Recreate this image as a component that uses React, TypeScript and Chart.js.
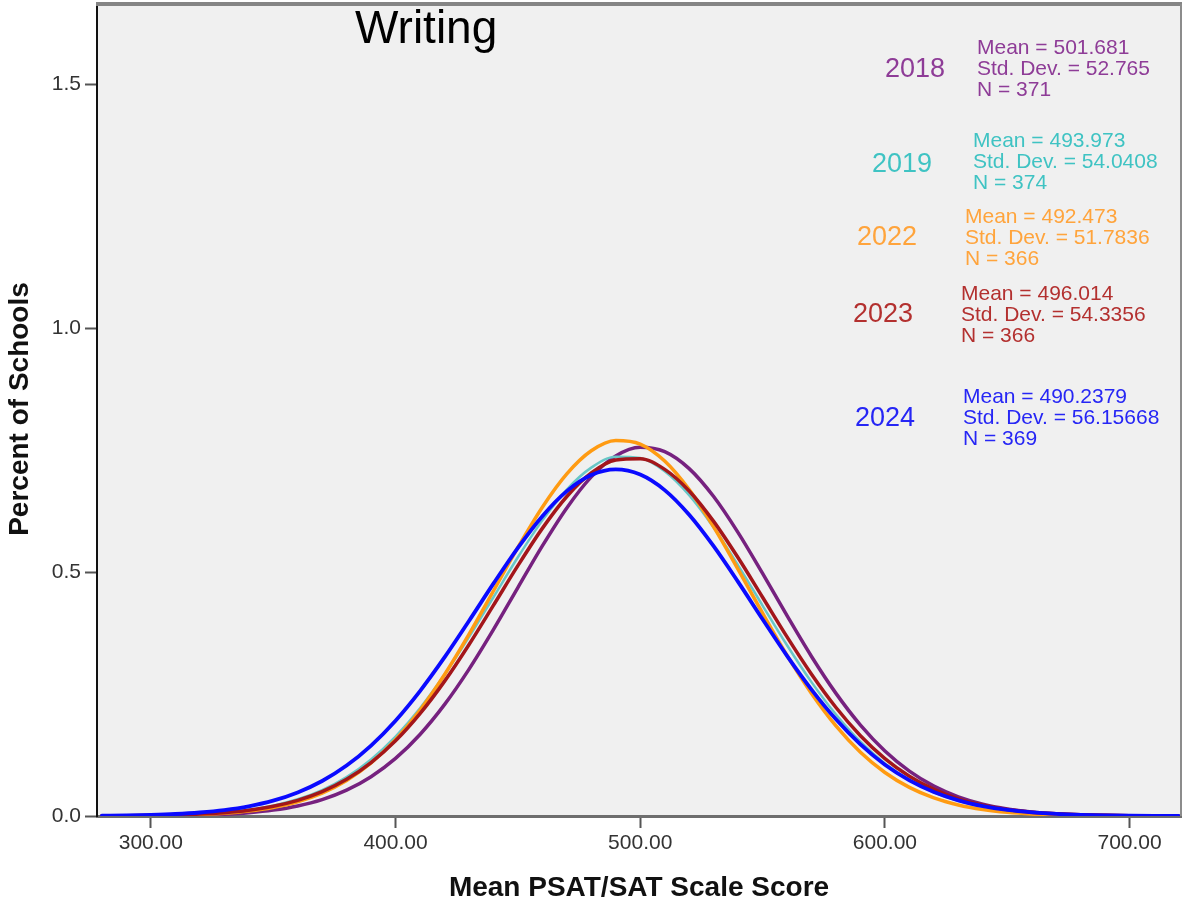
import React, { useEffect, useRef } from "react";
import { Chart, registerables } from "chart.js";

Chart.register(...registerables);

// ---- data ----
const scores = [
  280, 290, 300, 310, 320, 330, 340, 350, 360, 370, 380, 390, 400, 410, 420, 430, 440, 450, 460, 470, 480, 490,
  500, 510, 520, 530, 540, 550, 560, 570, 580, 590, 600, 610, 620, 630, 640, 650, 660, 670, 680, 690, 700, 710, 720,
];

const years = ["2018", "2019", "2022", "2023", "2024"];

const y2018 = [
  0.0001, 0.0002, 0.0005, 0.001, 0.002, 0.0038, 0.0069, 0.0121, 0.0206, 0.0336, 0.0529, 0.0805, 0.118, 0.1671, 0.2282,
  0.3005, 0.3818, 0.468, 0.5535, 0.6314, 0.6949, 0.7378, 0.7557, 0.7467, 0.7119, 0.6547, 0.5808, 0.4971, 0.4105, 0.3269,
  0.2513, 0.1863, 0.1332, 0.0919, 0.0612, 0.0393, 0.0243, 0.0145, 0.0084, 0.0047, 0.0025, 0.0013, 0.0006, 0.0003, 0.0001,
];
const y2019 = [
  0.0003, 0.0006, 0.0012, 0.0022, 0.0041, 0.0074, 0.0127, 0.0212, 0.0342, 0.0531, 0.0799, 0.116, 0.1628, 0.2207, 0.2893,
  0.3664, 0.4483, 0.5302, 0.6058, 0.669, 0.7139, 0.7362, 0.7336, 0.7065, 0.6574, 0.5911, 0.5136, 0.4313, 0.35, 0.2744,
  0.208, 0.1522, 0.1077, 0.0737, 0.0487, 0.0311, 0.0192, 0.0114, 0.0066, 0.0037, 0.002, 0.001, 0.0005, 0.0003, 0.0001,
];
const y2022 = [
  0.0002, 0.0004, 0.0008, 0.0015, 0.003, 0.0056, 0.0101, 0.0175, 0.0292, 0.047, 0.0728, 0.1087, 0.1564, 0.2167, 0.2894,
  0.3721, 0.4611, 0.5504, 0.6329, 0.7011, 0.7484, 0.7695, 0.7623, 0.7275, 0.6689, 0.5925, 0.5055, 0.4156, 0.3292, 0.2512,
  0.1847, 0.1307, 0.0892, 0.0586, 0.0371, 0.0226, 0.0133, 0.0075, 0.0041, 0.0022, 0.0011, 0.0005, 0.0003, 0.0001, 0.0,
];
const y2023 = [
  0.0003, 0.0006, 0.0011, 0.0021, 0.0039, 0.0069, 0.0119, 0.0198, 0.032, 0.0499, 0.0751, 0.1095, 0.1541, 0.2098, 0.2759,
  0.351, 0.4316, 0.513, 0.5894, 0.6547, 0.703, 0.7297, 0.7322, 0.7103, 0.6661, 0.6037, 0.5291, 0.4482, 0.367, 0.2905,
  0.2223, 0.1645, 0.1176, 0.0814, 0.0544, 0.0351, 0.0219, 0.0132, 0.0077, 0.0044, 0.0024, 0.0013, 0.0006, 0.0003, 0.0001,
];
const y2024 = [
  0.0006, 0.0012, 0.0023, 0.0041, 0.0072, 0.0121, 0.0198, 0.0314, 0.0483, 0.0718, 0.1034, 0.1444, 0.1954, 0.256, 0.3249,
  0.3996, 0.4761, 0.5496, 0.6145, 0.6657, 0.6987, 0.7104, 0.6997, 0.6678, 0.6173, 0.5529, 0.4797, 0.4032, 0.3283, 0.2591,
  0.1981, 0.1466, 0.1051, 0.0731, 0.0492, 0.0321, 0.0203, 0.0124, 0.0074, 0.0042, 0.0024, 0.0013, 0.0007, 0.0003, 0.0002,
];

const means = ["501.681", "493.973", "492.473", "496.014", "490.2379"];
const stdDevs = ["52.765", "54.0408", "51.7836", "54.3356", "56.15668"];
const counts = ["371", "374", "366", "366", "369"];

const xTicks = [300, 400, 500, 600, 700];
const yTicks = [0, 0.5, 1.0, 1.5];

const titleText = "Writing";
const xTitle = "Mean PSAT/SAT Scale Score";
const yTitle = "Percent of Schools";

// ---- styles / layout ----
const FONT = '"Liberation Sans", Arial, Helvetica, sans-serif';
const lineColors = ["#76217f", "#68c7c7", "#ff9b12", "#a3161a", "#0a0aff"];
const lineWidths = [3.5, 2.5, 3.5, 3.5, 3.8];
const textColors = ["#8e3c97", "#3fc3c3", "#ffa43c", "#b3302f", "#2626f5"];
const notePos = [
  { yx: 885, yy: 70, sx: 977, sy: 48 },
  { yx: 872, yy: 165, sx: 973, sy: 141 },
  { yx: 857, yy: 238, sx: 965, sy: 217 },
  { yx: 853, yy: 315, sx: 961, sy: 294 },
  { yx: 855, yy: 419, sx: 963, sy: 397 },
];

export default function App() {
  const ref = useRef<HTMLCanvasElement | null>(null);

  useEffect(() => {
    if (!ref.current) return;
    const series = [y2018, y2019, y2022, y2023, y2024];

    const framePlugin = {
      id: "frame",
      beforeDraw(chart: any) {
        const { ctx, chartArea: a } = chart;
        ctx.save();
        ctx.fillStyle = "#ffffff";
        ctx.fillRect(0, 0, chart.width, chart.height);
        ctx.fillStyle = "#f0f0f0";
        ctx.fillRect(a.left, a.top, a.right - a.left, a.bottom - a.top);
        ctx.restore();
      },
      afterDraw(chart: any) {
        const { ctx, chartArea: a } = chart;
        ctx.save();
        ctx.strokeStyle = "#858585";
        ctx.lineWidth = 4;
        ctx.beginPath();
        ctx.moveTo(a.left - 1, a.top);
        ctx.lineTo(a.right + 1, a.top);
        ctx.stroke();
        ctx.strokeStyle = "#8c8c8c";
        ctx.lineWidth = 2;
        ctx.beginPath();
        ctx.moveTo(a.right, a.top);
        ctx.lineTo(a.right, a.bottom);
        ctx.stroke();

        ctx.fillStyle = "#000";
        ctx.textAlign = "left";
        ctx.textBaseline = "alphabetic";
        ctx.font = `46px ${FONT}`;
        ctx.fillText(titleText, 355, 43);

        ctx.fillStyle = "#111";
        ctx.textAlign = "center";
        ctx.textBaseline = "middle";
        ctx.font = `bold 28px ${FONT}`;
        ctx.fillText(xTitle, 639, 888);
        ctx.save();
        ctx.translate(20, 409);
        ctx.rotate(-Math.PI / 2);
        ctx.fillText(yTitle, 0, 0);
        ctx.restore();

        ctx.textAlign = "left";
        ctx.textBaseline = "middle";
        for (let i = 0; i < years.length; i++) {
          const p = notePos[i];
          ctx.fillStyle = textColors[i];
          ctx.font = `27px ${FONT}`;
          ctx.fillText(years[i], p.yx, p.yy);
          ctx.font = `21px ${FONT}`;
          ctx.fillText(`Mean = ${means[i]}`, p.sx, p.sy);
          ctx.fillText(`Std. Dev. = ${stdDevs[i]}`, p.sx, p.sy + 21);
          ctx.fillText(`N = ${counts[i]}`, p.sx, p.sy + 42);
        }
        ctx.restore();
      },
    };

    const chart = new Chart(ref.current, {
      type: "line",
      data: {
        datasets: series.map((s, i) => ({
          label: years[i],
          data: scores.map((x, j) => ({ x, y: s[j] })),
          borderColor: lineColors[i],
          borderWidth: lineWidths[i],
          pointRadius: 0,
          fill: false,
          cubicInterpolationMode: "monotone" as const,
          borderCapStyle: "round" as const,
          order: years.length - i,
        })),
      },
      options: {
        animation: false,
        responsive: false,
        devicePixelRatio: 1,
        layout: { padding: { top: 4, right: 4, left: 0, bottom: 0 } },
        plugins: { legend: { display: false }, tooltip: { enabled: false }, title: { display: false } },
        scales: {
          x: {
            type: "linear",
            min: 278,
            max: 721,
            afterFit(scale: any) {
              scale.height = 87;
              scale.paddingLeft = 0;
              scale.paddingRight = 0;
            },
            afterBuildTicks(scale: any) {
              scale.ticks = xTicks.map((v) => ({ value: v }));
            },
            ticks: {
              callback: (v: any) => Number(v).toFixed(2),
              font: { family: FONT, size: 21 },
              color: "#333",
              padding: 3,
              maxRotation: 0,
            },
            grid: { display: true, drawOnChartArea: false, drawTicks: true, tickLength: 12, tickColor: "#555", tickWidth: 2 },
            border: { display: true, color: "#6e6e6e", width: 3 },
          },
          y: {
            type: "linear",
            min: 0,
            max: 1.664,
            afterFit(scale: any) {
              scale.width = 97;
              scale.paddingTop = 0;
              scale.paddingBottom = 0;
            },
            afterBuildTicks(scale: any) {
              scale.ticks = yTicks.map((v) => ({ value: v }));
            },
            ticks: {
              callback: (v: any) => Number(v).toFixed(1),
              font: { family: FONT, size: 21 },
              color: "#333",
              padding: 4,
            },
            grid: { display: true, drawOnChartArea: false, drawTicks: true, tickLength: 12, tickColor: "#555", tickWidth: 2 },
            border: { display: true, color: "#111", width: 2 },
          },
        },
      },
      plugins: [framePlugin],
    });
    return () => chart.destroy();
  }, []);

  return (
    <div style={{ position: "fixed", left: 0, top: 0, width: 1185, height: 903, background: "#fff" }}>
      <canvas ref={ref} width={1185} height={903} style={{ display: "block", width: 1185, height: 903 }} />
    </div>
  );
}
